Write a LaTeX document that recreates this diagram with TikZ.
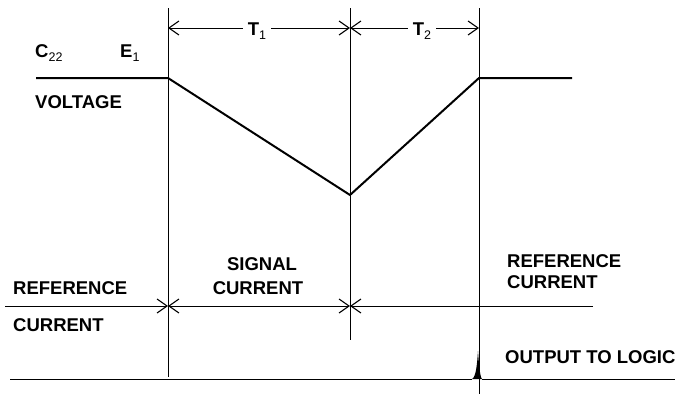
\documentclass[tikz,border=0pt]{standalone}
\usepackage{fontspec}
\setmainfont{Liberation Sans}
\usetikzlibrary{arrows.meta}
\newcommand{\subtx}[1]{\raisebox{-4pt}{\fontsize{12.5}{12.5}\selectfont\mdseries #1}}
\begin{document}
\begin{tikzpicture}[x=1pt,y=-1pt,
  lbl/.style={font=\fontsize{18.5}{18.5}\selectfont\bfseries, inner sep=0pt, anchor=base west},
  tlbl/.style={font=\fontsize{18.5}{18.5}\selectfont\bfseries, inner sep=5pt, anchor=base},
  guide/.style={line width=0.8pt},
  wave/.style={line width=2pt, line join=miter},
  barb/.tip={Straight Barb[length=10pt,width=14pt,line width=1.1pt]},
  dimarr/.style={line width=0.8pt, -barb},
]
\useasboundingbox (0,0) rectangle (699,394);

% vertical guide lines
\coordinate (a0) at (168,8);  \coordinate (a1) at (168,377);
\coordinate (b0) at (350,8);  \coordinate (b1) at (350,340);
\coordinate (c0) at (479,8);  \coordinate (c1) at (479,394);
\draw[guide] (a0) -- (a1);
\draw[guide] (b0) -- (b1);
\draw[guide] (c0) -- (c1);

% voltage waveform
\coordinate (w0) at (36,78);
\coordinate (w1) at (168,78);
\coordinate (w2) at (350,195);
\coordinate (w3) at (479,78);
\coordinate (w4) at (572,78);
\draw[wave] (w0) -- (w1) -- (w2) -- (w3) -- (w4);

% top labels
\node[lbl] (c22) at (35,57) {C\subtx{22}};
\node[lbl] (e1) at (120,57) {E\subtx{1}};
\node[lbl] (volt) at (35,108) {VOLTAGE};

% T1 / T2 dimension arrows
\coordinate (t1l) at (168,28); \coordinate (t1r) at (350,28);
\coordinate (t2l) at (350,28); \coordinate (t2r) at (479,28);
\node[tlbl] (t1) at (257,35) {T\subtx{1}};
\node[tlbl] (t2) at (422,35) {T\subtx{2}};
\draw[dimarr] (t1.west |- t1l) -- (t1l);
\draw[dimarr] (t1.east |- t1r) -- (t1r);
\draw[dimarr] (t2.west |- t2l) -- (t2l);
\draw[dimarr] (t2.east |- t2r) -- (t2r);

% current arrows
\coordinate (r0) at (5,306);  \coordinate (ra) at (168,306);
\coordinate (rb) at (350,306); \coordinate (r3) at (593,306);
\draw[dimarr] (r0) -- (ra);
\draw[dimarr, barb-barb] (ra) -- (rb);
\draw[dimarr] (r3) -- (rb);

\node[lbl] (ref1) at (13,294) {REFERENCE};
\node[lbl] (cur1) at (13,331) {CURRENT};
\node[lbl, anchor=base] (sig) at (262,270) {SIGNAL};
\node[lbl, anchor=base] (cur2) at (258,294) {CURRENT};
\node[lbl] (ref2) at (507,267) {REFERENCE};
\node[lbl] (cur3) at (507,288) {CURRENT};

% output line with pulse
\coordinate (o0) at (10,379);
\coordinate (p0) at (472,379);
\coordinate (p1) at (478,351);
\coordinate (p2) at (482,379);
\coordinate (o1) at (675,379);
\draw[guide, line width=0.9pt] (o0) -- (p0);
\draw[guide, line width=0.9pt] (p2) -- (o1);
\fill (p0) .. controls (476,377) and (477,365) .. (p1)
      .. controls (479,365) and (480,377) .. (p2) -- cycle;
\node[lbl] (out) at (505,363) {OUTPUT TO LOGIC};
\end{tikzpicture}
\end{document}
